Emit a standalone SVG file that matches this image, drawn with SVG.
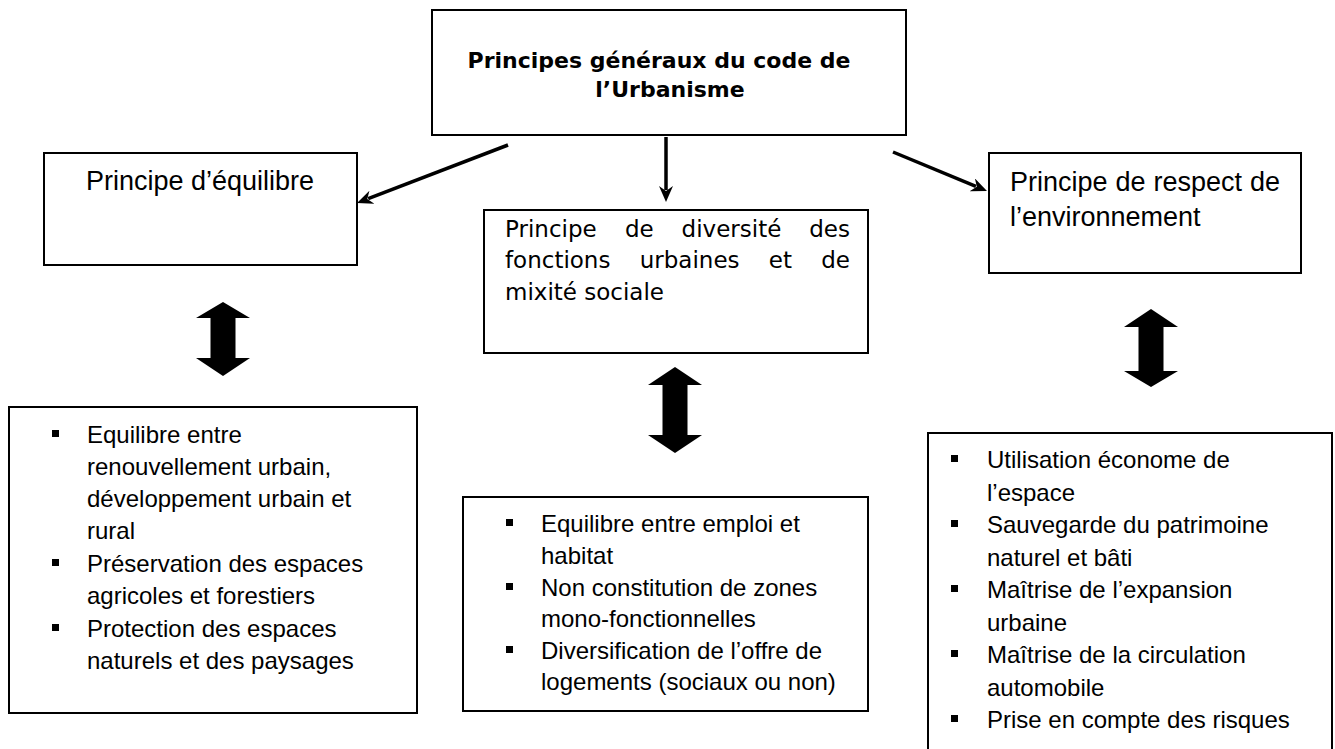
<svg xmlns="http://www.w3.org/2000/svg" width="1335" height="749" viewBox="0 0 1335 749">
<style>
.box{fill:#fff;stroke:#000;stroke-width:2}
.title{font-family:"DejaVu Sans",Verdana,sans-serif;font-weight:bold;font-size:22px;fill:#000}
.tah{font-family:"DejaVu Sans",Verdana,sans-serif;font-size:23px;fill:#000}
.cal{font-family:"Liberation Sans",Arial,sans-serif;font-size:27px;fill:#000}
.li{font-family:"Liberation Sans",Arial,sans-serif;font-size:24px;fill:#000}
.conn{stroke:#000;stroke-width:3.5;fill:none;marker-end:url(#ah)}
.dbl{fill:#000;stroke:none}
.bul{fill:#000}
</style>
<defs>
<marker id="ah" viewBox="0 0 16 14" refX="4" refY="7" markerWidth="16" markerHeight="14" markerUnits="userSpaceOnUse" orient="auto">
<path d="M0,0 L16,7 L0,14 L5,7 Z" fill="#000"/>
</marker>
</defs>
<rect width="1335" height="749" fill="#fff"/>

<g id="connectors">
<line class="conn" x1="508" y1="145" x2="368.2" y2="198.7"/>
<line class="conn" x1="666" y1="137" x2="666" y2="190"/>
<line class="conn" x1="893" y1="152" x2="975.9" y2="186.4"/>
<polygon class="dbl" points="223,302 250,318 235.5,318 235.5,358 250,358 223,376 196,358 210.5,358 210.5,318 196,318"/>
<polygon class="dbl" points="675,367 702,385 687.5,385 687.5,435 702,435 675,453 648,435 662.5,435 662.5,385 648,385"/>
<polygon class="dbl" points="1151,309 1178,327 1163.5,327 1163.5,371 1178,371 1151,387 1124,371 1138.5,371 1138.5,327 1124,327"/>
</g>

<g id="node-top">
<rect class="box" x="432" y="10" width="474" height="125"/>
<text class="title" x="659" y="68" text-anchor="middle">Principes généraux du code de</text>
<text class="title" x="670" y="97" text-anchor="middle">l’Urbanisme</text>
</g>

<g id="node-equilibre">
<rect class="box" x="44" y="153" width="313" height="112"/>
<text class="cal" x="200" y="190" text-anchor="middle">Principe d’équilibre</text>
</g>

<g id="node-diversite">
<rect class="box" x="484" y="210" width="384" height="143"/>
<text class="tah" y="237"><tspan x="505">Principe</tspan><tspan x="625">de</tspan><tspan x="681.6">diversité</tspan></text>
<text class="tah" x="850" y="237" text-anchor="end">des</text>
<text class="tah" y="268"><tspan x="505">fonctions</tspan><tspan x="639.7">urbaines</tspan><tspan x="768.8">et</tspan></text>
<text class="tah" x="850" y="268" text-anchor="end">de</text>
<text class="tah" x="505" y="300">mixité sociale</text>
</g>

<g id="node-environnement">
<rect class="box" x="989" y="153" width="312" height="120"/>
<text class="cal" y="191"><tspan x="1010">Principe</tspan><tspan x="1115.5">de</tspan><tspan x="1153.5">respect</tspan></text>
<text class="cal" x="1280" y="191" text-anchor="end">de</text>
<text class="cal" x="1010" y="226">l’environnement</text>
</g>

<g id="node-list-equilibre">
<rect class="box" x="9" y="407" width="408" height="306"/>
<rect class="bul" x="52" y="430" width="7" height="7"/>
<rect class="bul" x="52" y="559" width="7" height="7"/>
<rect class="bul" x="52" y="624" width="7" height="7"/>
<text class="li" x="87" y="443">Equilibre entre</text>
<text class="li" x="87" y="475">renouvellement urbain,</text>
<text class="li" x="87" y="507">développement urbain et</text>
<text class="li" x="87" y="539">rural</text>
<text class="li" x="87" y="572">Préservation des espaces</text>
<text class="li" x="87" y="604">agricoles et forestiers</text>
<text class="li" x="87" y="637">Protection des espaces</text>
<text class="li" x="87" y="669">naturels et des paysages</text>
</g>

<g id="node-list-diversite">
<rect class="box" x="463" y="497" width="405" height="214"/>
<rect class="bul" x="506" y="519" width="7" height="7"/>
<rect class="bul" x="506" y="583" width="7" height="7"/>
<rect class="bul" x="506" y="646" width="7" height="7"/>
<text class="li" x="541" y="532">Equilibre entre emploi et</text>
<text class="li" x="541" y="564">habitat</text>
<text class="li" x="541" y="596">Non constitution de zones</text>
<text class="li" x="541" y="627">mono-fonctionnelles</text>
<text class="li" x="541" y="659">Diversification de l’offre de</text>
<text class="li" x="541" y="690">logements (sociaux ou non)</text>
</g>

<g id="node-list-environnement">
<rect class="box" x="928" y="433" width="404" height="340"/>
<rect class="bul" x="951" y="455" width="7" height="7"/>
<rect class="bul" x="951" y="520" width="7" height="7"/>
<rect class="bul" x="951" y="585" width="7" height="7"/>
<rect class="bul" x="951" y="650" width="7" height="7"/>
<rect class="bul" x="951" y="715" width="7" height="7"/>
<text class="li" x="987" y="468">Utilisation économe de</text>
<text class="li" x="987" y="501">l’espace</text>
<text class="li" x="987" y="533">Sauvegarde du patrimoine</text>
<text class="li" x="987" y="566">naturel et bâti</text>
<text class="li" x="987" y="598">Maîtrise de l’expansion</text>
<text class="li" x="987" y="631">urbaine</text>
<text class="li" x="987" y="663">Maîtrise de la circulation</text>
<text class="li" x="987" y="696">automobile</text>
<text class="li" x="987" y="728">Prise en compte des risques</text>
</g>
</svg>
